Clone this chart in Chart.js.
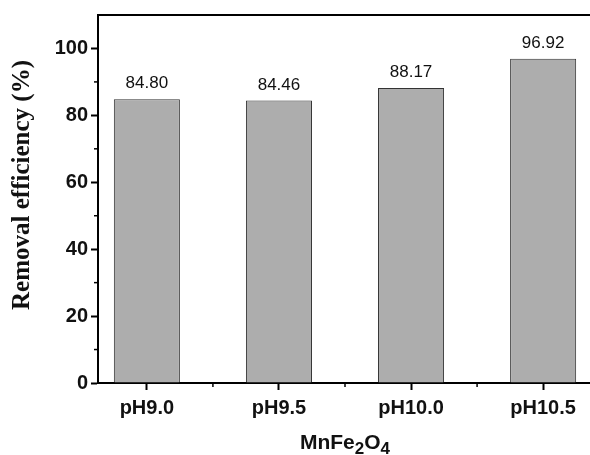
<!DOCTYPE html>
<html><head><meta charset="utf-8">
<script src="https://cdn.jsdelivr.net/npm/chart.js@4"></script>
<style>html,body{margin:0;padding:0;overflow:hidden;background:#fff}#wrap{width:596px;height:455px}</style>
</head><body><div id="wrap"><canvas id="c" width="596" height="455"></canvas></div>
<script>
const categories = ["pH9.0", "pH9.5", "pH10.0", "pH10.5"];
const positions = [1, 2, 3, 4];
const efficiency = [84.80, 84.46, 88.17, 96.92];
const valueLabels = ["84.80", "84.46", "88.17", "96.92"];
const yMajorTicks = [0, 20, 40, 60, 80, 100];
const yMinorTicks = [10, 30, 50, 70, 90];
const xMinorTicks = [1.5, 2.5, 3.5];
const yTitle = "Removal efficiency (%)";
const xTitleParts = [["MnFe", false], ["2", true], ["O", false], ["4", true]];

const data = positions.map((p, i) => ({x: p, y: efficiency[i]}));

const SANS = '"Liberation Sans", Arial, sans-serif';

const extras = {
  id: 'extras',
  afterDraw(chart) {
    const ctx = chart.ctx, a = chart.chartArea;
    const xs = chart.scales.x, ys = chart.scales.y;
    ctx.save();
    ctx.strokeStyle = '#000';
    ctx.lineWidth = 2;
    ctx.beginPath();
    ctx.moveTo(a.left - 1, a.top); ctx.lineTo(a.right + 10, a.top);
    ctx.stroke();
    ctx.lineWidth = 1.5;
    yMinorTicks.forEach(v => {
      const y = ys.getPixelForValue(v);
      ctx.beginPath(); ctx.moveTo(a.left - 4, y); ctx.lineTo(a.left, y); ctx.stroke();
    });
    xMinorTicks.forEach(v => {
      const x = xs.getPixelForValue(v);
      ctx.beginPath(); ctx.moveTo(x, a.bottom); ctx.lineTo(x, a.bottom + 4); ctx.stroke();
    });
    // value labels
    ctx.fillStyle = '#111';
    ctx.font = '17px ' + SANS;
    ctx.textAlign = 'center';
    ctx.textBaseline = 'bottom';
    chart.getDatasetMeta(0).data.forEach((bar, i) => {
      ctx.fillText(valueLabels[i], bar.x, bar.y - 7);
    });
    // y title
    ctx.save();
    ctx.translate(23, (a.top + a.bottom) / 2 - 14);
    ctx.rotate(-Math.PI / 2);
    ctx.font = 'bold 25px "Liberation Serif", "Times New Roman", serif';
    ctx.textAlign = 'center';
    ctx.textBaseline = 'middle';
    ctx.fillText(yTitle, 0, 0);
    ctx.restore();
    // x title with subscripts
    const mainF = 'bold 21px ' + SANS, subF = 'bold 17px ' + SANS;
    let total = 0;
    xTitleParts.forEach(([t, sub]) => { ctx.font = sub ? subF : mainF; total += ctx.measureText(t).width; });
    let x = (a.left + a.right) / 2 - total / 2;
    const base = 449;
    ctx.textAlign = 'left';
    ctx.textBaseline = 'alphabetic';
    xTitleParts.forEach(([t, sub]) => {
      ctx.font = sub ? subF : mainF;
      ctx.fillText(t, x, sub ? base + 5 : base);
      x += ctx.measureText(t).width;
    });
    ctx.restore();
  }
};

new Chart(document.getElementById('c'), {
  type: 'bar',
  data: {
    datasets: [{
      data: data,
      backgroundColor: '#adadad',
      borderColor: '#333',
      borderWidth: 1,
      barPercentage: 0.5,
      categoryPercentage: 1.0
    }]
  },
  options: {
    responsive: false,
    animation: false,
    layout: {padding: {top: 15, right: 4, left: 0, bottom: 0}},
    plugins: {legend: {display: false}, tooltip: {enabled: false}},
    scales: {
      x: {
        type: 'linear',
        offset: false,
        min: 0.63, max: 4.37,
        afterBuildTicks(s) { s.ticks = positions.map(v => ({value: v})); },
        afterFit(s) { s.height = 72; },
        grid: {offset: false, drawOnChartArea: false, tickLength: 7, tickWidth: 2, tickColor: '#000'},
        border: {color: '#000', width: 2},
        ticks: {
          autoSkip: false, maxRotation: 0, padding: 6, color: '#111',
          font: {family: SANS, size: 20, weight: 'bold'},
          callback: (v) => categories[positions.indexOf(v)] || ''
        }
      },
      y: {
        min: 0, max: 110,
        afterBuildTicks(s) { s.ticks = yMajorTicks.map(v => ({value: v})); },
        afterFit(s) { s.width = 98; },
        grid: {drawOnChartArea: false, tickLength: 7, tickWidth: 2, tickColor: '#000'},
        border: {color: '#000', width: 2},
        ticks: {
          padding: 3, color: '#111',
          font: {family: SANS, size: 20, weight: 'bold'}
        }
      }
    }
  },
  plugins: [extras]
});
</script>
</body></html>
